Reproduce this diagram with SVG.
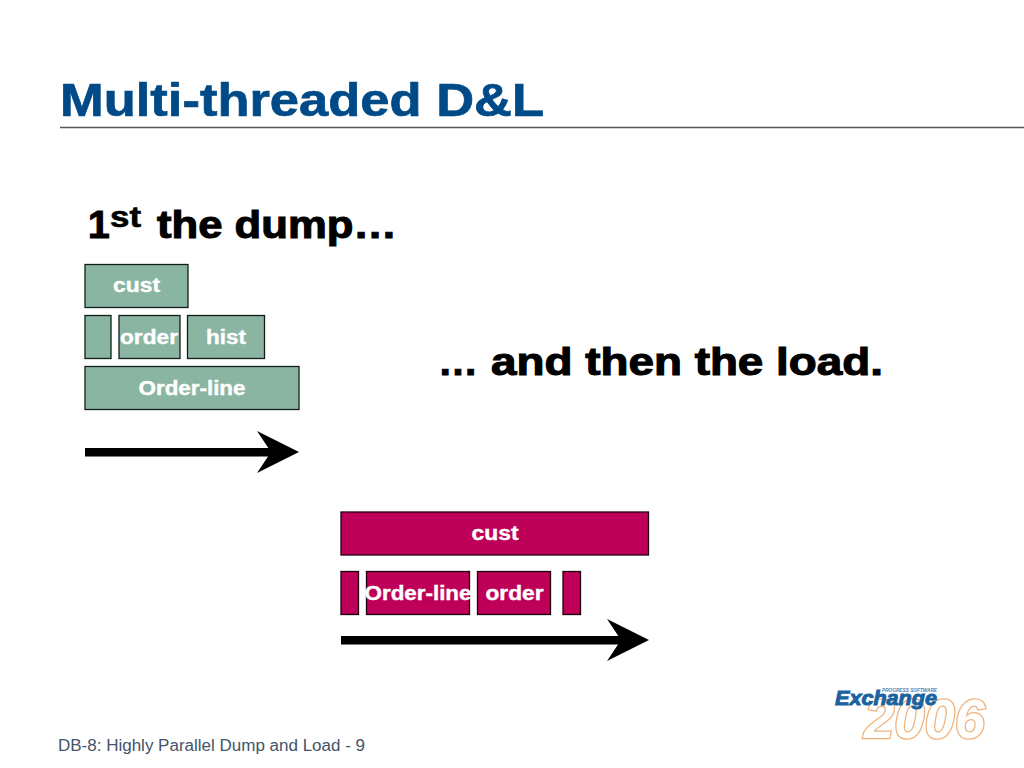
<svg xmlns="http://www.w3.org/2000/svg" width="1024" height="768" viewBox="0 0 1024 768">
<style>
text{font-family:"Liberation Sans",Arial,sans-serif}
.g{fill:#8ab5a2;stroke:#102018;stroke-width:1.3}
.m{fill:#bf0058;stroke:#200010;stroke-width:1.3}
.l{fill:#fff;stroke:#fff;stroke-width:.4;font-size:20px;font-weight:700;text-anchor:middle}
.h{fill:#000;font-size:39px;font-weight:700;stroke:#000;stroke-width:1.1}
</style>
<defs><path id="head" d="M0 0L-42 -21L-28 0L-42 21Z" fill="#000"/></defs>
<rect width="1024" height="768" fill="#fff"/>
<g id="title">
<text x="60" y="116" font-size="46" font-weight="700" fill="#004b87" stroke="#004b87" stroke-width=".7" textLength="484" lengthAdjust="spacingAndGlyphs">Multi-threaded D&amp;L</text>
<line x1="60" y1="127.500" x2="1024" y2="127.500" stroke="#555" stroke-width="1.500"/>
</g>
<g id="heading-dump"><text class="h" y="238"><tspan x="88">1</tspan><tspan x="110" y="227" font-size="29" stroke-width=".6" textLength="31" lengthAdjust="spacingAndGlyphs">st</tspan> <tspan x="157" y="238" textLength="240" lengthAdjust="spacingAndGlyphs">the dump…</tspan></text></g>
<g id="heading-load"><text class="h" y="375"><tspan x="438" textLength="40" lengthAdjust="spacingAndGlyphs">…</tspan> <tspan x="491" textLength="392" lengthAdjust="spacingAndGlyphs">and then the load.</tspan></text></g>
<g id="dump-cust"><rect class="g" x="85" y="264.500" width="103" height="43"/><text class="l" x="136.500" y="292" textLength="47" lengthAdjust="spacingAndGlyphs">cust</text></g>
<g id="dump-blank"><rect class="g" x="85" y="315.500" width="26" height="43"/></g>
<g id="dump-order"><rect class="g" x="119" y="315.500" width="61" height="43"/><text class="l" x="149" y="344" textLength="58" lengthAdjust="spacingAndGlyphs">order</text></g>
<g id="dump-hist"><rect class="g" x="187.500" y="315.500" width="77" height="43"/><text class="l" x="226" y="344" textLength="40" lengthAdjust="spacingAndGlyphs">hist</text></g>
<g id="dump-orderline"><rect class="g" x="85" y="366.500" width="214" height="43"/><text class="l" x="192" y="395" textLength="107" lengthAdjust="spacingAndGlyphs">Order-line</text></g>
<g id="load-cust"><rect class="m" x="341" y="512" width="307.500" height="43"/><text class="l" x="495" y="540" textLength="47" lengthAdjust="spacingAndGlyphs">cust</text></g>
<g id="load-blank1"><rect class="m" x="341" y="571.500" width="17.500" height="43"/></g>
<g id="load-orderline"><rect class="m" x="366.500" y="571.500" width="103" height="43"/><text class="l" x="418" y="600" textLength="107" lengthAdjust="spacingAndGlyphs">Order-line</text></g>
<g id="load-order"><rect class="m" x="477.500" y="571.500" width="73" height="43"/><text class="l" x="514.500" y="600" textLength="58" lengthAdjust="spacingAndGlyphs">order</text></g>
<g id="load-blank2"><rect class="m" x="563" y="571.500" width="17.500" height="43"/></g>
<g id="connectors">
<rect x="85" y="448" width="190" height="8.500" fill="#000"/><use href="#head" x="299" y="452"/>
<rect x="341" y="636" width="285" height="8.500" fill="#000"/><use href="#head" x="649" y="640"/>
</g>
<g id="logo">
<text x="864" y="738" font-size="56" font-weight="700" font-style="italic" fill="#fff" stroke="#eeb27a" stroke-width="2.600" paint-order="stroke" textLength="121" lengthAdjust="spacingAndGlyphs">2006</text>
<text x="882" y="692" font-size="5" font-weight="700" font-style="italic" fill="#4d86b5" textLength="55" lengthAdjust="spacingAndGlyphs">PROGRESS SOFTWARE</text>
<text x="835" y="705" font-size="21" font-weight="700" font-style="italic" fill="#1a639f" stroke="#1a639f" stroke-width="1" textLength="102" lengthAdjust="spacingAndGlyphs">Exchange</text>
</g>
<g id="footer"><text x="58" y="751" font-size="16" fill="#44546a" textLength="307" lengthAdjust="spacingAndGlyphs">DB-8: Highly Parallel Dump and Load - 9</text></g>
</svg>
